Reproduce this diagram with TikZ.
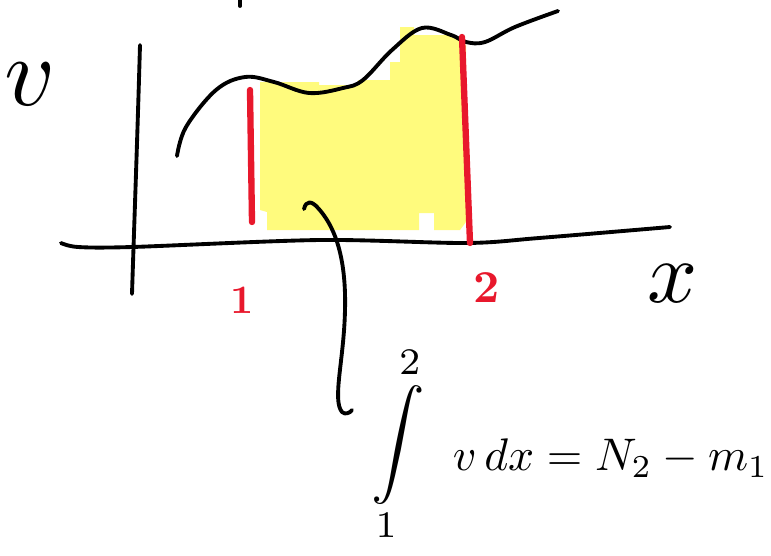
\documentclass[tikz,border=0pt]{standalone}
\usetikzlibrary{positioning}
\definecolor{markred}{RGB}{232,24,44}
\definecolor{hiyellow}{RGB}{255,251,125}
\begin{document}
\begin{tikzpicture}[
  x=0.02cm, y=-0.02cm,
  ink/.style={line width=2.2pt, line cap=round, line join=round},
  bound/.style={draw=markred, line width=3.6pt, line cap=round},
  hilite/.style={fill=hiyellow},
  redlbl/.style={text=markred, font=\bfseries, inner sep=0pt},
  hand/.style={inner sep=0pt}
]
\useasboundingbox (0,0) rectangle (771,555);
% highlighted area under the curve
\fill[hilite] (260,82) -- (319,82) -- (319,85) -- (358,85) -- (358,80) -- (390,80) -- (390,62)
  -- (400,62) -- (400,27) -- (414,27) -- (414,35) -- (453,35) -- (466,45) -- (466,222)
  -- (460,230) -- (434,230) -- (434,213) -- (419,213) -- (419,230) -- (267,230) -- (267,212)
  -- (260,210) -- cycle;
% the curve
\draw[ink] plot[smooth, tension=0.6] coordinates {(177,156) (186,127) (216,90) (245,77) (274,82)
  (309,93) (343,88) (363,80) (392,50) (422,28) (451,35) (466,42) (485,42) (515,27) (558,11)};
% axes
\draw[ink] (240,-2) -- (240,6);
\draw[ink] (140,45) .. controls (137,150) and (134,230) .. (132,294);
\draw[ink] plot[smooth, tension=0.5] coordinates {(61,243) (78,247) (132,247) (320,240) (466,243)
  (539,238) (670,227)};
% limits
\draw[bound] (250,90) -- (252,222);
\draw[bound] (462,37) -- (470,243);
\node[redlbl, scale=2.3] (lo) at (242,300) {1};
\node[redlbl, scale=2.6] (hi) at (487,288) {2};
\node[hand, scale=5.6] (vlab) at (30,84) {$v$};
\node[hand, scale=5] (xlab) at (673,284) {$x$};
% the integral
\node[hand, scale=3.05] (intg) at (398,444) {$\displaystyle\int\limits_1^2$};
\node[hand, scale=2.6, anchor=west] (rhs) at (452,458) {$v\,dx = N_2 - m_1$};
\coordinate (pick) at (304,209);
\coordinate (hook) at (352,410);
\draw[ink] (pick) .. controls (306,200) and (312,201) .. (318,208)
  .. controls (340,232) and (346,270) .. (345,310)
  .. controls (344,360) and (332,400) .. (342,412)
  .. controls (345,415) and (350,413) .. (hook);
\end{tikzpicture}
\end{document}
